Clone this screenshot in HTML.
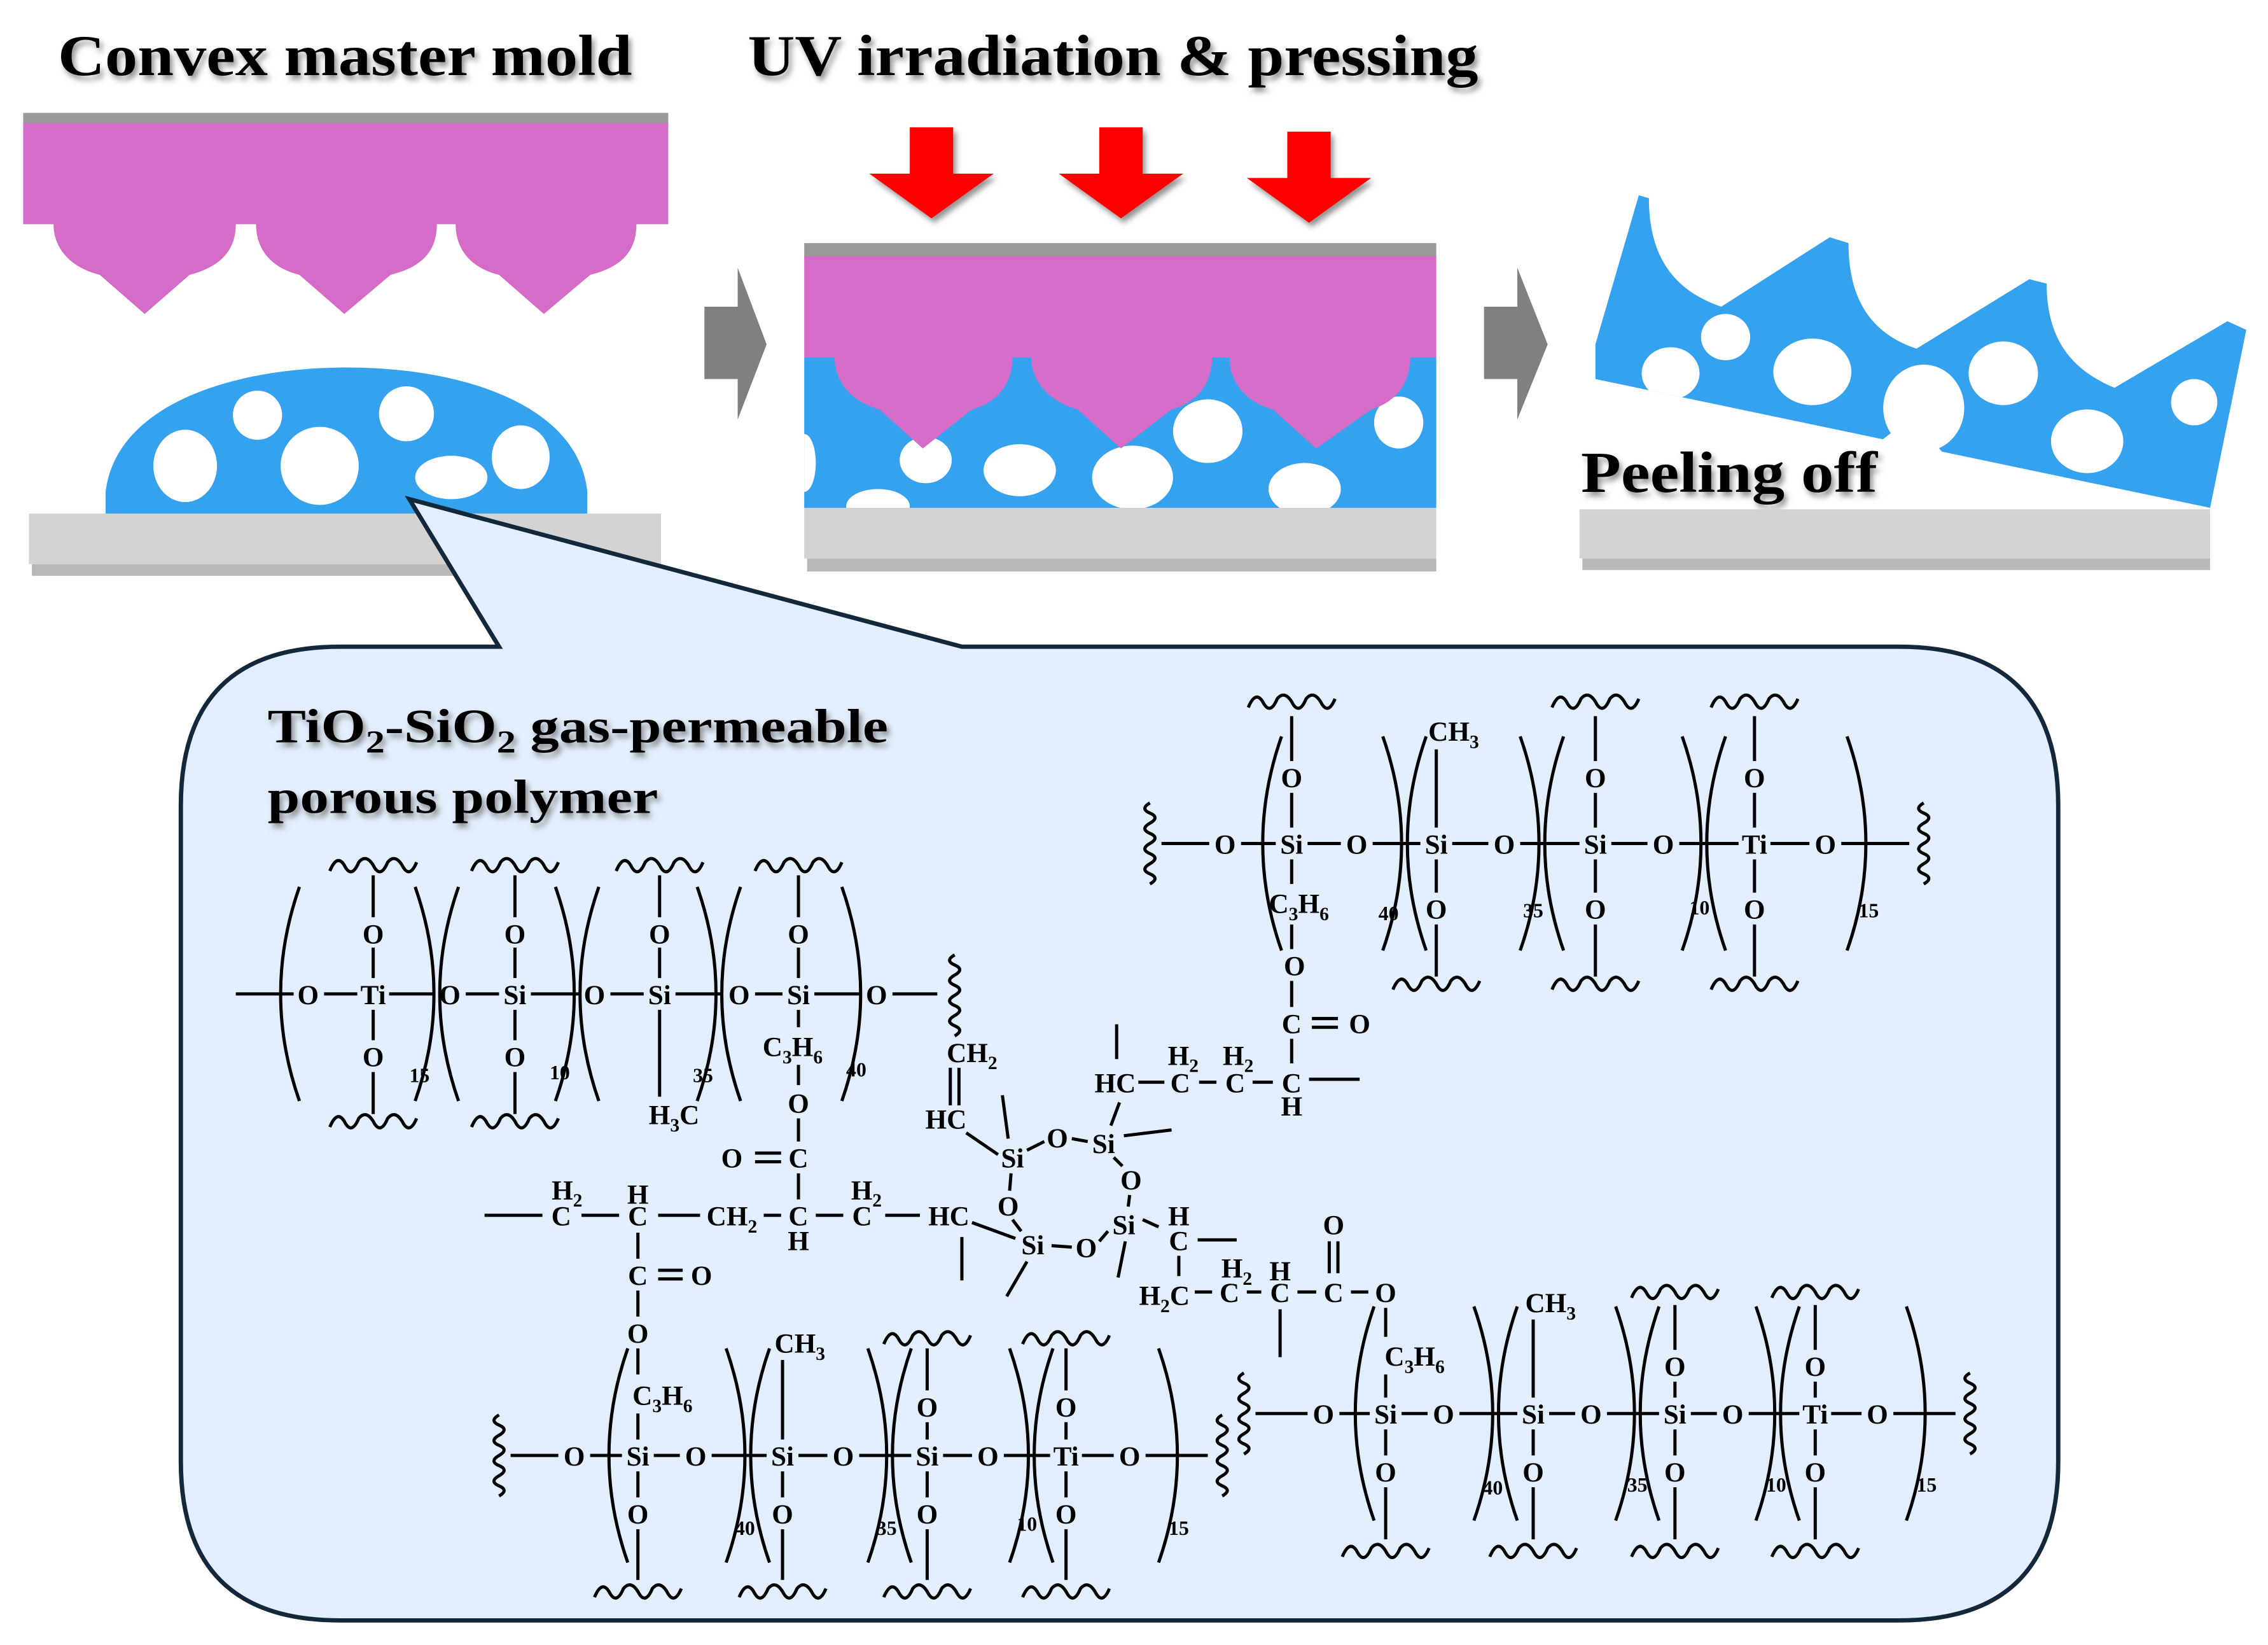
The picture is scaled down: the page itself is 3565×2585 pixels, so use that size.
<!DOCTYPE html>
<html><head><meta charset="utf-8">
<style>
html,body{margin:0;padding:0;background:#fff;}
svg{display:block;}
.ti{font-family:"Liberation Serif",serif;font-weight:bold;font-size:40px;}
.ch{font-family:"Liberation Serif",serif;font-weight:bold;font-size:19px;fill:#000;}
</style></head><body>
<svg id="s" width="3565" height="2585" viewBox="0 0 1568 1137" xmlns="http://www.w3.org/2000/svg">
<defs>
<filter id="sh" x="-10%" y="-30%" width="130%" height="160%"><feDropShadow dx="2" dy="3" stdDeviation="2" flood-color="#777" flood-opacity="0.8"/></filter>
<clipPath id="c2"><rect x="556" y="247" width="437" height="104"/></clipPath>
<clipPath id="c1"><path d="M73,355 L73,340 C80,280 160,254 240,254 C320,254 400,280 406,340 L406,355 Z"/></clipPath>
<clipPath id="c3"><path id="pp" d="M1133,135 L1140,137 C1140,175 1155,200 1190,212 L1265,164 L1278,168 C1278,205 1292,230 1325,241 L1403,193 L1415,196 C1415,232 1430,255 1462,268 L1540,222 L1553,228 L1528,351 L1103,262 L1103,238 Z"/></clipPath>
</defs>
<text class="ti" x="40" y="52" textLength="397" lengthAdjust="spacingAndGlyphs" filter="url(#sh)">Convex master mold</text>
<text class="ti" x="517" y="52" textLength="505" lengthAdjust="spacingAndGlyphs" filter="url(#sh)">UV irradiation &amp; pressing</text>
<text class="ti" x="1093" y="340" textLength="205" lengthAdjust="spacingAndGlyphs" filter="url(#sh)">Peeling off</text>

<rect x="16" y="78" width="446" height="9" fill="#9a9a9a"/>
<path fill="#d56cc8" d="M16,85 H462 V155 H440 C440,175 428,185 408,190 L376,217 L345,190 C325,185 315,172 315,155 H302 C302,175 290,185 270,190 L238,217 L207,190 C187,185 177,172 177,155 H163 C163,175 150,185 131,190 L100,217 L69,190 C49,185 37,172 37,155 H16 Z"/>
<path fill="#35a2f0" d="M73,355 L73,340 C80,280 160,254 240,254 C320,254 400,280 406,340 L406,355 Z"/>
<g fill="#fff" clip-path="url(#c1)">
<ellipse cx="128" cy="322" rx="22" ry="25"/><ellipse cx="178" cy="287" rx="17" ry="17"/>
<ellipse cx="221" cy="322" rx="27" ry="27"/><ellipse cx="281" cy="286" rx="19" ry="19"/>
<ellipse cx="312" cy="330" rx="25" ry="15"/><ellipse cx="360" cy="316" rx="20" ry="22"/>
</g>
<rect x="22" y="390" width="435" height="8" fill="#888" opacity="0.6"/>
<rect x="20" y="355" width="437" height="35" fill="#d3d3d3"/>

<path fill="#808080" d="M487,212 H510 V185 L530,238 L510,290 V262 H487 Z"/>
<path fill="#808080" d="M1026,212 H1049 V185 L1070,238 L1049,290 V262 H1026 Z"/>

<g fill="#ff0000" filter="url(#sh)">
<path d="M629,88 H659 V120 H687 L644,151 L601,120 H629 Z"/>
<path d="M760,88 H790 V120 H818 L775,151 L732,120 H760 Z"/>
<path d="M890,91 H920 V123 H948 L905,154 L862,123 H890 Z"/>
</g>

<rect x="556" y="247" width="437" height="104" fill="#35a2f0"/>
<g fill="#fff" clip-path="url(#c2)">
<ellipse cx="640" cy="318" rx="18" ry="16"/><ellipse cx="705" cy="325" rx="25" ry="18"/>
<ellipse cx="783" cy="330" rx="28" ry="22"/><ellipse cx="835" cy="298" rx="24" ry="22"/>
<ellipse cx="967" cy="292" rx="17" ry="18"/><ellipse cx="902" cy="338" rx="25" ry="18"/>
<ellipse cx="607" cy="350" rx="22" ry="12"/><ellipse cx="556" cy="320" rx="8" ry="20"/>
</g>
<rect x="556" y="168" width="437" height="10" fill="#9a9a9a"/>
<path fill="#d56cc8" d="M556,177 H993 V247 H975 C975,265 965,278 948,283 L910,310 L880,283 C862,278 850,265 850,247 H838 C838,265 828,278 810,283 L775,310 L745,283 C727,278 713,265 713,247 H700 C700,265 690,278 672,283 L638,310 L608,283 C590,278 577,265 577,247 H556 Z"/>
<rect x="558" y="386" width="435" height="9" fill="#888" opacity="0.6"/>
<rect x="556" y="351" width="437" height="35" fill="#d3d3d3"/>

<use href="#pp" fill="#35a2f0"/>
<path d="M1300,305 L1345,315 L1322,288 Z" fill="#fff"/>
<g fill="#fff" clip-path="url(#c3)">
<ellipse cx="1193" cy="233" rx="17" ry="16"/><ellipse cx="1155" cy="258" rx="20" ry="18"/>
<ellipse cx="1253" cy="257" rx="27" ry="23"/><ellipse cx="1330" cy="282" rx="28" ry="30"/>
<ellipse cx="1385" cy="258" rx="24" ry="22"/><ellipse cx="1443" cy="305" rx="25" ry="22"/>
<ellipse cx="1517" cy="278" rx="16" ry="16"/>
</g>
<rect x="1094" y="386" width="434" height="8" fill="#888" opacity="0.6"/>
<rect x="1092" y="352" width="436" height="34" fill="#d3d3d3"/>

<path d="M235,447 H345 L283,345 L665,447 H1313 Q1423,447 1423,557 V1010 Q1423,1120 1313,1120 H235 Q125,1120 125,1010 V557 Q125,447 235,447 Z" fill="#e2eefc" stroke="#13283a" stroke-width="3"/>
<text class="ti" style="font-size:33px" x="185" y="513" textLength="429" lengthAdjust="spacingAndGlyphs" filter="url(#sh)">TiO<tspan font-size="22" dy="7">2</tspan><tspan dy="-7">-SiO</tspan><tspan font-size="22" dy="7">2</tspan><tspan dy="-7"> gas-permeable</tspan></text>
<text class="ti" style="font-size:33px" x="185" y="562" textLength="270" lengthAdjust="spacingAndGlyphs" filter="url(#sh)">porous polymer</text>
<g id="chem" stroke="#000" stroke-width="2.2" fill="none"></g>
<g id="chemt"></g>
</svg>
<script>
var NS="http://www.w3.org/2000/svg",G=document.getElementById('chem'),T=document.getElementById('chemt');
function el(n,a,p){var e=document.createElementNS(NS,n);for(var k in a)e.setAttribute(k,a[k]);(p||G).appendChild(e);return e;}
function l(x1,y1,x2,y2){el('line',{x1:x1,y1:y1,x2:x2,y2:y2});}
function t(x,y,s,sz){var e=el('text',{x:x,y:y+7,'text-anchor':'middle','class':'ch'},T);if(sz)e.style.fontSize=sz+'px';
 var parts=s.split(/(_\d+)/);parts.forEach(function(p){if(!p)return;var ts=document.createElementNS(NS,'tspan');
 if(p[0]=='_'){ts.textContent=p.slice(1);ts.setAttribute('font-size','13');ts.setAttribute('dy','5');}else{ts.textContent=p;if(e.childNodes.length)ts.setAttribute('dy','-5');}
 e.appendChild(ts);});}
function sub(x,y,s){var e=el('text',{x:x+3,y:y+6,'class':'ch'},T);e.style.fontSize='14px';e.textContent=s;}
function w(cx,y){var d='M'+(cx-30)+','+(y+4);for(var i=0;i<3;i++){var x=cx-30+i*20;d+=' Q'+(x+5)+','+(y-8)+' '+(x+10)+','+y+' Q'+(x+15)+','+(y+10)+' '+(x+20)+','+(y-2);}el('path',{d:d});}
function sq(x,y){var d='M'+x+','+(y-28);for(var i=0;i<4;i++){var yy=y-28+i*14;d+=' Q'+(x-7)+','+(yy+4)+' '+x+','+(yy+7)+' Q'+(x+7)+','+(yy+10)+' '+x+','+(yy+14);}el('path',{d:d});}
function par(x,y,dir,h){h=h||74;var x0=dir<0?x+14:x-14;var c=dir<0?x0-26:x0+26;el('path',{d:'M'+x0+','+(y-h)+' Q'+c+','+y+' '+x0+','+(y+h)});}
function chain(y,xs){for(var i=0;i<xs.length-1;i++){l(xs[i]+11,y,xs[i+1]-11,y);}}
function vb(x,y1,y2){l(x,y1,x,y2);}
var y=687;l(163,y,203,y);chain(y,[213,258,311,356,411,456,511,552,606]);l(617,y,648,y);
t(213,y,'O');t(258,y,'Ti');t(311,y,'O');t(356,y,'Si');t(411,y,'O');t(456,y,'Si');t(511,y,'O');t(552,y,'Si');t(606,y,'O');
[258,356,456,552].forEach(function(x){t(x,645,'O');vb(x,655,676);vb(x,605,634);w(x,598);});
[258,356].forEach(function(x){t(x,730,'O');vb(x,698,719);vb(x,741,770);w(x,775);});
vb(456,698,758);t(466,770,'H_3C');
t(548,723,'C_3H_6');vb(552,698,710);vb(552,736,750);t(552,762,'O');vb(552,773,789);t(552,800,'C');
l(522,797,540,797);l(522,803,540,803);t(506,800,'O');vb(552,811,829);
par(193,y,-1);par(301,y,1);par(303,y,-1);par(398,y,1);par(400,y,-1);par(496,y,1);par(498,y,-1);par(596,y,1);
sub(280,742,'15');sub(377,740,'10');sub(476,742,'35');sub(582,738,'40');
sq(660,688);
y=840;l(335,y,375,y);t(388,y,'C');t(392,822,'H_2');l(402,y,428,y);t(441,y,'C');t(441,825,'H');
l(455,y,484,y);t(506,y,'CH_2');l(528,y,540,y);t(552,y,'C');t(552,857,'H');l(564,y,583,y);t(596,y,'C');t(599,822,'H_2');l(612,y,636,y);t(656,y,'HC');
vb(441,852,870);t(441,881,'C');l(455,878,472,878);l(455,884,472,884);t(485,881,'O');vb(441,892,910);t(441,921,'O');vb(441,932,950);t(458,964,'C_3H_6');vb(441,977,995);
t(672,727,'CH_2');l(657,738,657,764);l(663,738,663,764);t(654,773,'HC');l(668,783,690,798);
t(700,800,'Si');t(731,786,'O');t(763,790,'Si');t(782,815,'O');t(777,846,'Si');t(751,862,'O');t(714,860,'Si');t(697,833,'O');
l(710,795,722,789);l(741,787,752,789);l(770,800,776,806);l(781,826,780,834);l(766,851,760,858);l(741,862,727,861);l(706,851,700,843);l(698,823,699,811);
l(697,787,693,757);l(777,785,810,781);l(768,778,774,762);vb(772,708,732);
l(672,845,702,856);vb(665,855,885);l(710,872,696,896);l(778,858,773,883);l(790,843,801,848);
t(771,748,'HC');l(787,748,805,748);t(816,748,'C');t(818,729,'H_2');l(829,748,841,748);t(854,748,'C');t(856,729,'H_2');l(866,748,880,748);t(893,748,'C');t(893,764,'H');l(905,746,940,746);
vb(893,718,735);t(893,707,'C');l(907,704,925,704);l(907,710,925,710);t(940,707,'O');vb(893,678,696);t(895,667,'O');vb(893,639,656);
t(815,840,'H');t(815,857,'C');l(828,857,855,857);vb(815,868,882);t(805,895,'H_2C');l(826,893,838,893);t(850,893,'C');t(855,876,'H_2');l(862,893,872,893);t(885,893,'C');t(885,878,'H');l(897,893,910,893);t(922,893,'C');
l(919,858,919,880);l(925,858,925,880);t(922,846,'O');l(934,893,946,893);t(958,893,'O');vb(885,905,938);vb(958,904,924);t(978,937,'C_3H_6');vb(958,950,966);
y=583;sq(795,y);l(803,y,836,y);chain(y,[847,893,938,993,1040,1103,1150,1213,1262]);l(1273,y,1320,y);sq(1330,y);
t(847,y,'O');t(893,y,'Si');t(938,y,'O');t(993,y,'Si');t(1040,y,'O');t(1103,y,'Si');t(1150,y,'O');t(1213,y,'Ti');t(1262,y,'O');
[893,1103,1213].forEach(function(x){t(x,537,'O');vb(x,548,572);vb(x,495,526);w(x,485);});
[993,1103,1213].forEach(function(x){t(x,628,'O');vb(x,594,617);vb(x,639,675);w(x,680);});
t(898,624,'C_3H_6');vb(893,594,611);
t(1005,505,'CH_3');vb(993,518,572);
par(872,y,-1);par(970,y,1);par(972,y,-1);par(1065,y,1);par(1067,y,-1);par(1177,y,1);par(1179,y,-1);par(1291,y,1);
sub(950,630,'40');sub(1050,628,'35');sub(1165,626,'10');sub(1282,628,'15');
y=1006;sq(345,y);l(353,y,386,y);chain(y,[397,441,481,541,583,641,683,737,781]);l(792,y,835,y);sq(845,y);
t(397,y,'O');t(441,y,'Si');t(481,y,'O');t(541,y,'Si');t(583,y,'O');t(641,y,'Si');t(683,y,'O');t(737,y,'Ti');t(781,y,'O');
[641,737].forEach(function(x){t(x,972,'O');vb(x,983,995);vb(x,932,961);w(x,925);});
[441,541,641,737].forEach(function(x){t(x,1046,'O');vb(x,1017,1035);vb(x,1057,1092);w(x,1100);});
t(553,928,'CH_3');vb(541,940,995);
par(420,y,-1);par(516,y,1);par(518,y,-1);par(614,y,1);par(616,y,-1);par(712,y,1);par(714,y,-1);par(815,y,1);
sub(505,1055,'40');sub(603,1055,'35');sub(700,1052,'10');sub(805,1055,'15');
y=977;sq(860,y);l(868,y,904,y);chain(y,[915,958,998,1060,1100,1158,1198,1255,1298]);l(1309,y,1352,y);sq(1362,y);
t(915,y,'O');t(958,y,'Si');t(998,y,'O');t(1060,y,'Si');t(1100,y,'O');t(1158,y,'Si');t(1198,y,'O');t(1255,y,'Ti');t(1298,y,'O');
[1158,1255].forEach(function(x){t(x,944,'O');vb(x,955,966);vb(x,902,933);w(x,893);});
[958,1060,1158,1255].forEach(function(x){t(x,1017,'O');vb(x,988,1006);vb(x,1028,1064);w(x,1072);});
t(1072,900,'CH_3');vb(1060,912,966);
par(936,y,-1);par(1033,y,1);par(1035,y,-1);par(1131,y,1);par(1133,y,-1);par(1228,y,1);par(1230,y,-1);par(1332,y,1);
sub(1022,1027,'40');sub(1122,1025,'35');sub(1218,1025,'10');sub(1322,1025,'15');
</script>
</body></html>
